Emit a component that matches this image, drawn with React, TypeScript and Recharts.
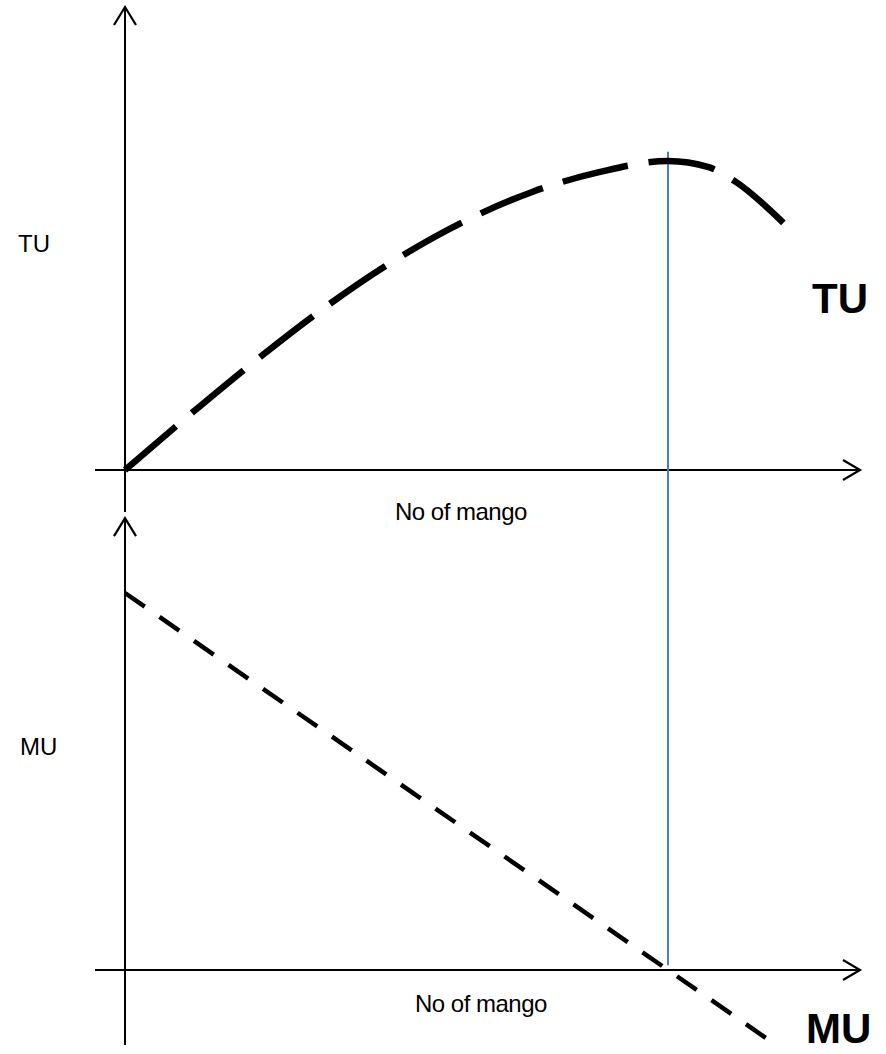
import React from "react";
import { LineChart, Line, XAxis, YAxis, ReferenceLine } from "recharts";

// Number of mangoes (x) and total utility (top panel)
const tuX = [0, 1, 2, 3, 4, 5, 6, 7, 8, 8.6, 9, 9.7];
const tuValues = [0, 7.5, 14.7, 21.4, 27.3, 32.2, 36, 38.6, 40, 39.2, 37.3, 32];

// Marginal utility (bottom panel)
const muX = [0, 1, 2, 3, 4, 5, 6, 7, 8, 9, 9.45];
const muValues = [8, 7, 6, 5, 4, 3, 2, 1, 0, -1, -1.45];

// Quantity where TU is maximum and MU is zero
const maxQ = 8;

const axisLabel = "No of mango";
const tuLabel = "TU";
const muLabel = "MU";

const tuData = tuX.map((x, i) => ({ x, tu: tuValues[i] }));
const muData = muX.map((x, i) => ({ x, mu: muValues[i] }));

const W = 886;
const H = 1054;

const arrowShape = (dir: "right" | "up") => (props: any) => {
  const { x1, y1, x2, y2 } = props;
  let tipX = x2, tipY = y2;
  let pts = "";
  if (dir === "right") {
    tipX = Math.max(x1, x2);
    tipY = y1;
    pts = `${tipX - 17},${tipY - 10} ${tipX},${tipY} ${tipX - 17},${tipY + 10}`;
  } else {
    tipX = x1;
    tipY = Math.min(y1, y2);
    pts = `${tipX - 11},${tipY + 18} ${tipX},${tipY} ${tipX + 11},${tipY + 18}`;
  }
  return (
    <g>
      <line x1={x1} y1={y1} x2={x2} y2={y2} stroke="#000" strokeWidth={2} />
      <polyline points={pts} fill="none" stroke="#000" strokeWidth={2.2} />
    </g>
  );
};

const textBase: React.CSSProperties = {
  position: "absolute",
  fontFamily: "'Liberation Sans', Arial, sans-serif",
  color: "#000",
  whiteSpace: "nowrap",
  lineHeight: 1,
};

export default function App() {
  const xMin = -0.442;
  const xMax = 10.829;
  return (
    <div style={{ position: "absolute", left: 0, top: 0, width: W, height: H, background: "#fff" }}>
      <LineChart width={W} height={H} margin={{ top: 7, left: 95, right: 26, bottom: 9 }}>
        <XAxis type="number" dataKey="x" domain={[xMin, xMax]} hide allowDataOverflow />
        <YAxis yAxisId="tu" type="number" domain={[-74.43, 59.94]} hide allowDataOverflow />
        <YAxis yAxisId="mu" type="number" domain={[-1.5915, 20.435]} hide allowDataOverflow />

        {/* top panel axes */}
        <ReferenceLine
          yAxisId="tu"
          ifOverflow="visible"
          segment={[{ x: xMin, y: 0 }, { x: xMax, y: 0 }]}
          shape={arrowShape("right")}
        />
        <ReferenceLine
          yAxisId="tu"
          ifOverflow="visible"
          segment={[{ x: 0, y: -5.44 }, { x: 0, y: 59.94 }]}
          shape={arrowShape("up")}
        />
        {/* bottom panel axes */}
        <ReferenceLine
          yAxisId="mu"
          ifOverflow="visible"
          segment={[{ x: xMin, y: 0 }, { x: xMax, y: 0 }]}
          shape={arrowShape("right")}
        />
        <ReferenceLine
          yAxisId="mu"
          ifOverflow="visible"
          segment={[{ x: 0, y: -1.5915 }, { x: 0, y: 9.59 }]}
          shape={arrowShape("up")}
        />

        {/* vertical guide at max TU */}
        <ReferenceLine
          yAxisId="tu"
          ifOverflow="visible"
          segment={[{ x: maxQ, y: 41.2 }, { x: maxQ, y: -64.1 }]}
          stroke="#4a7ebb"
          strokeWidth={2}
        />

        <Line
          yAxisId="tu"
          data={tuData}
          dataKey="tu"
          type="monotone"
          stroke="#000"
          strokeWidth={6.5}
          strokeDasharray="67 21"
          dot={false}
          activeDot={false}
          isAnimationActive={false}
        />
        <Line
          yAxisId="mu"
          data={muData}
          dataKey="mu"
          type="linear"
          stroke="#000"
          strokeWidth={4.5}
          strokeDasharray="24 18"
          dot={false}
          activeDot={false}
          isAnimationActive={false}
        />
      </LineChart>

      <span style={{ ...textBase, left: 18, top: 232, fontSize: 24 }}>{tuLabel}</span>
      <span style={{ ...textBase, left: 20, top: 735, fontSize: 24 }}>{muLabel}</span>
      <span style={{ ...textBase, left: 395, top: 500, fontSize: 24, letterSpacing: -0.5 }}>{axisLabel}</span>
      <span style={{ ...textBase, left: 415, top: 992, fontSize: 24, letterSpacing: -0.5 }}>{axisLabel}</span>
      <span style={{ ...textBase, left: 812, top: 278, fontSize: 42, fontWeight: 700 }}>{tuLabel}</span>
      <span style={{ ...textBase, left: 806, top: 1008, fontSize: 42, fontWeight: 700 }}>{muLabel}</span>
    </div>
  );
}
